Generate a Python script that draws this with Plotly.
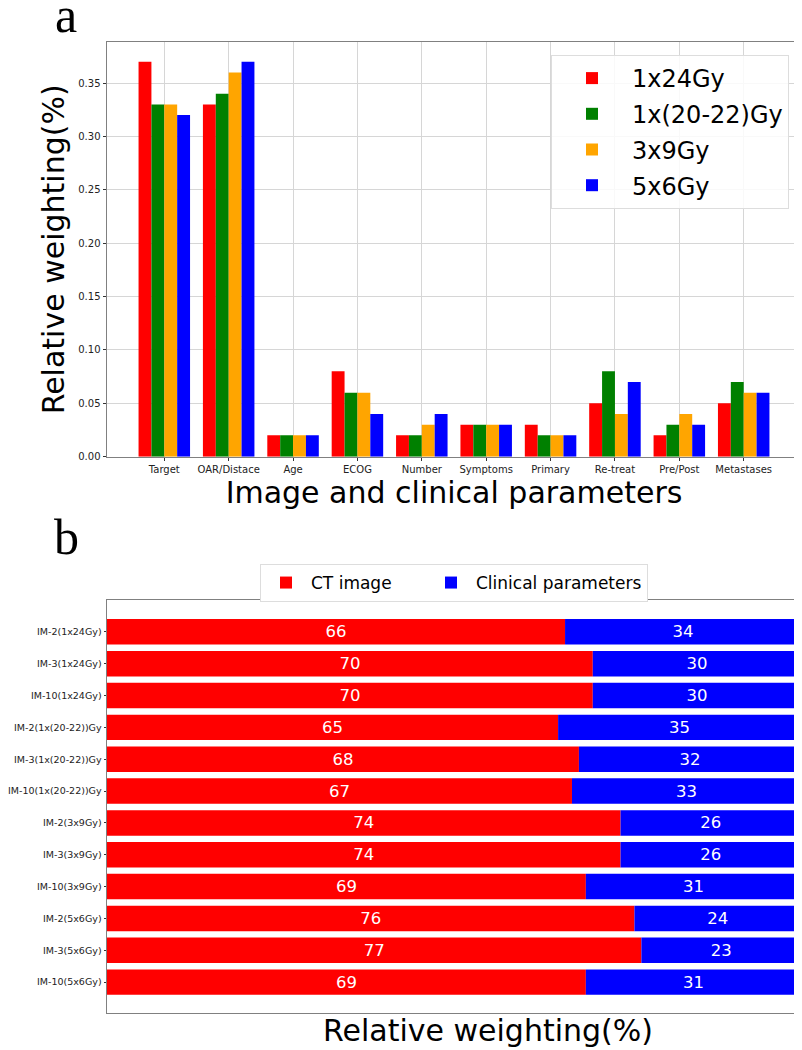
import plotly.graph_objects as go

PARAMS = ["Target", "OAR/Distace", "Age", "ECOG", "Number",
          "Symptoms", "Primary", "Re-treat", "Pre/Post", "Metastases"]
SCHEMES = ["1x24Gy", "1x(20-22)Gy", "3x9Gy", "5x6Gy"]
W_1X24 = [0.37, 0.33, 0.02, 0.08, 0.02, 0.03, 0.03, 0.05, 0.02, 0.05]
W_1X20_22 = [0.33, 0.34, 0.02, 0.06, 0.02, 0.03, 0.02, 0.08, 0.03, 0.07]
W_3X9 = [0.33, 0.36, 0.02, 0.06, 0.03, 0.03, 0.02, 0.04, 0.04, 0.06]
W_5X6 = [0.32, 0.37, 0.02, 0.04, 0.04, 0.03, 0.02, 0.07, 0.03, 0.06]
SCHEME_COLS = ["#ff0000", "#008000", "#ffa500", "#0000ff"]

MODELS = ["IM-2(1x24Gy)", "IM-3(1x24Gy)", "IM-10(1x24Gy)",
          "IM-2(1x(20-22))Gy", "IM-3(1x(20-22))Gy", "IM-10(1x(20-22))Gy",
          "IM-2(3x9Gy)", "IM-3(3x9Gy)", "IM-10(3x9Gy)",
          "IM-2(5x6Gy)", "IM-3(5x6Gy)", "IM-10(5x6Gy)"]
CT_SHARE = [66, 70, 70, 65, 68, 67, 74, 74, 69, 76, 77, 69]
CLINICAL_SHARE = [34, 30, 30, 35, 32, 33, 26, 26, 31, 24, 23, 31]

FONT = "DejaVu Sans"
GRID = "#d6d6d6"
SPINE = "#808080"

# the page body has an 8px margin, so the figure is drawn a bit smaller
PAGE_PAD = 8
W, H = 802 - PAGE_PAD, 1050 - PAGE_PAD


def px_x(x):
    return (x - PAGE_PAD) / W


def px_y(y):
    return 1 - (y - PAGE_PAD) / H


fig = go.Figure()

# panel a: grouped bars
for name, vals, col in zip(SCHEMES, [W_1X24, W_1X20_22, W_3X9, W_5X6], SCHEME_COLS):
    fig.add_trace(
        go.Bar(
            x=PARAMS, y=vals, name=name, marker_color=col, marker_line_width=0,
            offsetgroup=name, legendgroup=name, xaxis="x", yaxis="y",
            legend="legend",
        )
    )

# panel b: stacked horizontal bars
fig.add_trace(
    go.Bar(
        y=MODELS, x=CT_SHARE, name="CT image", orientation="h",
        marker_color="#ff0000", marker_line_width=0, offsetgroup="b",
        text=CT_SHARE, textposition="inside", insidetextanchor="middle",
        textangle=0, textfont=dict(color="white", size=16.5, family=FONT),
        xaxis="x2", yaxis="y2", legend="legend2", legendwidth=110,
    )
)
fig.add_trace(
    go.Bar(
        y=MODELS, x=CLINICAL_SHARE, base=CT_SHARE, name="Clinical parameters",
        orientation="h", marker_color="#0000ff", marker_line_width=0,
        offsetgroup="b", text=CLINICAL_SHARE, textposition="inside",
        insidetextanchor="middle", textangle=0,
        textfont=dict(color="white", size=16.5, family=FONT),
        xaxis="x2", yaxis="y2", legend="legend2",
    )
)

axis_common = dict(
    showline=True, linecolor=SPINE, linewidth=1, mirror=True,
    ticks="outside", ticklen=3.5, tickcolor="#333", automargin=False,
    tickfont=dict(size=10, color="#222", family=FONT),
)

fig.update_layout(
    width=W, height=H,
    margin=dict(l=0, r=0, t=0, b=0),
    paper_bgcolor="white", plot_bgcolor="white",
    font=dict(family=FONT, color="black"),
    barmode="group", bargap=0.2, bargroupgap=0,
    xaxis=dict(
        axis_common, domain=[px_x(107), px_x(801)], anchor="y",
        range=[-0.89, 9.89], showgrid=True, gridcolor=GRID,
        title=dict(text="Image and clinical parameters",
                   font=dict(size=30, family=FONT), standoff=0),
    ),
    yaxis=dict(
        axis_common, domain=[px_y(456.7), px_y(42)], anchor="x",
        range=[0, 0.3885], dtick=0.05, tickformat=".2f",
        showgrid=True, gridcolor=GRID, zeroline=False,
        title=dict(text="Relative weighting(%)",
                   font=dict(size=30, family=FONT), standoff=4),
    ),
    xaxis2=dict(
        axis_common, domain=[px_x(107), px_x(801)], anchor="y2",
        range=[0, 100], showticklabels=False, ticks="", showgrid=False,
        zeroline=False,
    ),
    yaxis2=dict(
        axis_common, domain=[px_y(1013), px_y(600)], anchor="x2",
        range=[11.97, -1.0], showgrid=False, ticklen=2.5,
        tickfont=dict(size=9.5, color="#222", family=FONT),
    ),
    legend=dict(
        x=px_x(789), y=px_y(55), xanchor="right", yanchor="top",
        font=dict(size=24, family=FONT), bgcolor="rgba(255,255,255,0.85)",
        bordercolor="#dddddd", borderwidth=1, tracegroupgap=1.5,
        itemwidth=70,
    ),
    legend2=dict(
        orientation="h", x=px_x(454), y=px_y(583), xanchor="center",
        yanchor="middle", font=dict(size=17, family=FONT), bgcolor="white",
        bordercolor="#dddddd", borderwidth=1, itemwidth=40,
    ),
    annotations=[
        dict(text="a", x=px_x(66), y=px_y(-15), xref="paper", yref="paper",
             xanchor="center", yanchor="top", showarrow=False,
             font=dict(size=50, family="Liberation Serif", color="black")),
        dict(text="b", x=px_x(67), y=px_y(507), xref="paper", yref="paper",
             xanchor="center", yanchor="top", showarrow=False,
             font=dict(size=50, family="Liberation Serif", color="black")),
        dict(text="Relative weighting(%)", x=px_x(488), y=px_y(1030),
             xref="paper", yref="paper", xanchor="center", yanchor="middle",
             showarrow=False, font=dict(size=30, family=FONT, color="black")),
    ],
)

fig.write_html("out.html")
